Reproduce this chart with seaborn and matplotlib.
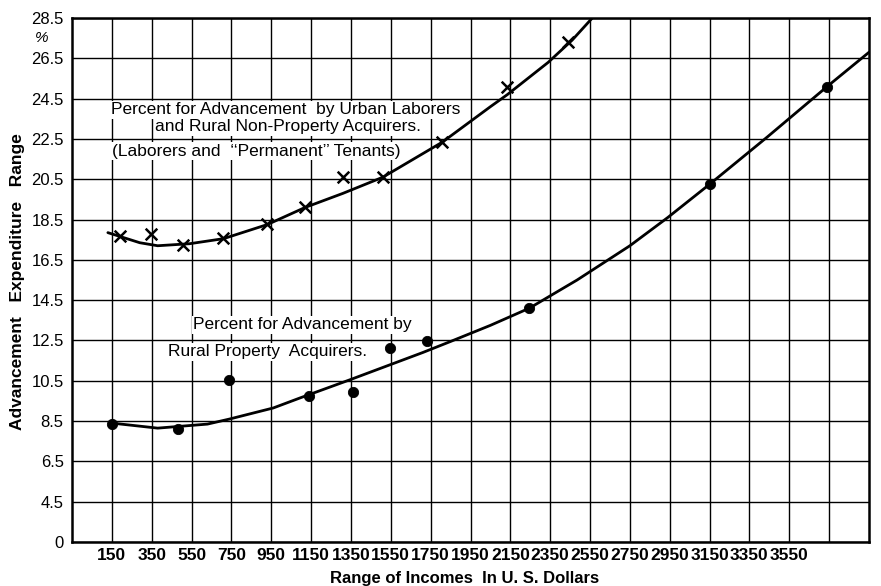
import matplotlib
matplotlib.use("Agg")
import matplotlib.pyplot as plt
import seaborn as sns
import pandas as pd

# Values (income in US dollars, percent for advancement)
urban_x = [190, 345, 505, 710, 930, 1120, 1310, 1510, 1805, 2135, 2440]
urban_y = [17.7, 17.8, 17.25, 17.6, 18.3, 19.1, 20.6, 20.6, 22.35, 25.1, 27.3]

urban_curve_x = [130, 290, 380, 540, 710, 930, 1120, 1310, 1510, 1810, 2050, 2135, 2340, 2460, 2575]
urban_curve_y = [17.85, 17.35, 17.2, 17.3, 17.55, 18.25, 19.1, 19.8, 20.6, 22.35, 24.1, 24.7, 26.3, 27.4, 28.65]

rural_x = [150, 480, 740, 1140, 1360, 1545, 1730, 2245, 3150, 3740]
rural_y = [8.35, 8.1, 10.55, 9.75, 9.95, 12.15, 12.45, 14.1, 20.25, 25.1]

rural_curve_x = [150, 380, 630, 740, 960, 1095, 1345, 1710, 1850, 2050, 2245, 2485,
                 2750, 2940, 3150, 3440, 3740, 3950]
rural_curve_y = [8.4, 8.15, 8.35, 8.6, 9.15, 9.65, 10.55, 11.9, 12.45, 13.25, 14.1, 15.5,
                 17.2, 18.6, 20.25, 22.6, 25.1, 26.8]

x_ticks = list(range(150, 3751, 200))
x_tick_labels = [str(v) for v in range(150, 3551, 200)] + [""]
y_ticks = [2.5 + 2 * i for i in range(14)]
y_tick_labels = ["0"] + [f"{v:.1f}" for v in y_ticks[1:]]

FONT = ["Liberation Sans Narrow", "Liberation Sans", "DejaVu Sans"]


def main() -> int:
    sns.set_theme(style="white")
    plt.rcParams["font.family"] = FONT
    for key in ("text.color", "axes.labelcolor", "xtick.color", "ytick.color"):
        plt.rcParams[key] = "black"

    fig = plt.figure(figsize=(8.81, 5.86), dpi=100)
    ax = fig.add_axes([72 / 881, 44 / 586, 797 / 881, 524 / 586])

    ax.set_xlim(-50, 3950)
    ax.set_ylim(2.5, 28.5)
    ax.set_xticks(x_ticks)
    ax.set_xticklabels(x_tick_labels, fontsize=12.5, fontweight="bold")
    ax.set_yticks(y_ticks)
    ax.set_yticklabels(y_tick_labels, fontsize=12)
    ax.tick_params(axis="x", length=0, pad=4, colors="black")
    ax.tick_params(axis="y", length=0, pad=6, colors="black")
    ax.grid(True, color="black", linewidth=1.0)
    ax.set_axisbelow(True)
    for sp in ax.spines.values():
        sp.set_color("black")
        sp.set_linewidth(1.8)

    urban_curve = pd.DataFrame({"x": urban_curve_x, "y": urban_curve_y})
    rural_curve = pd.DataFrame({"x": rural_curve_x, "y": rural_curve_y})
    sns.lineplot(data=urban_curve, x="x", y="y", ax=ax, color="black", linewidth=2,
                 sort=False, estimator=None)
    sns.lineplot(data=rural_curve, x="x", y="y", ax=ax, color="black", linewidth=2,
                 sort=False, estimator=None)

    sns.scatterplot(x=urban_x, y=urban_y, ax=ax, marker="x", s=70, color="black",
                    linewidth=1.8, zorder=5)
    sns.scatterplot(x=rural_x, y=rural_y, ax=ax, marker="o", s=55, color="black",
                    edgecolor="black", zorder=5)
    ax.set_xlabel("")
    ax.set_ylabel("")

    box = dict(facecolor="white", edgecolor="none", pad=1.0)
    fs = 12.5
    ax.text(1020, 23.94, "Percent for Advancement  by Urban Laborers",
            ha="center", va="center", fontsize=fs, bbox=box, zorder=4)
    ax.text(1034, 23.1, "and Rural Non-Property Acquirers.",
            ha="center", va="center", fontsize=fs, bbox=box, zorder=4)
    ax.text(150, 21.9, "(Laborers and  \u2018\u2018Permanent\u2019\u2019 Tenants)",
            ha="left", va="center", fontsize=fs, bbox=box, zorder=4)
    ax.text(557, 13.27, "Percent for Advancement by", ha="left", va="center",
            fontsize=fs, bbox=box, zorder=4)
    ax.text(432, 11.93, "Rural Property  Acquirers.", ha="left", va="center",
            fontsize=fs, bbox=box, zorder=4)

    fig.text(42 / 881, 1 - 38 / 586, "%", ha="center", va="center", fontsize=11,
             style="italic")
    fig.text(18 / 881, 1 - 282 / 586, "Advancement   Expenditure   Range", rotation=90,
             ha="center", va="center", fontsize=12.5, fontweight="bold")
    fig.text(465 / 881, 1 - 578 / 586, "Range of Incomes  In U. S. Dollars",
             ha="center", va="center", fontsize=12, fontweight="bold")

    fig.savefig("out.png", dpi=100)
    return 0


if __name__ == "__main__":
    raise SystemExit(main())
